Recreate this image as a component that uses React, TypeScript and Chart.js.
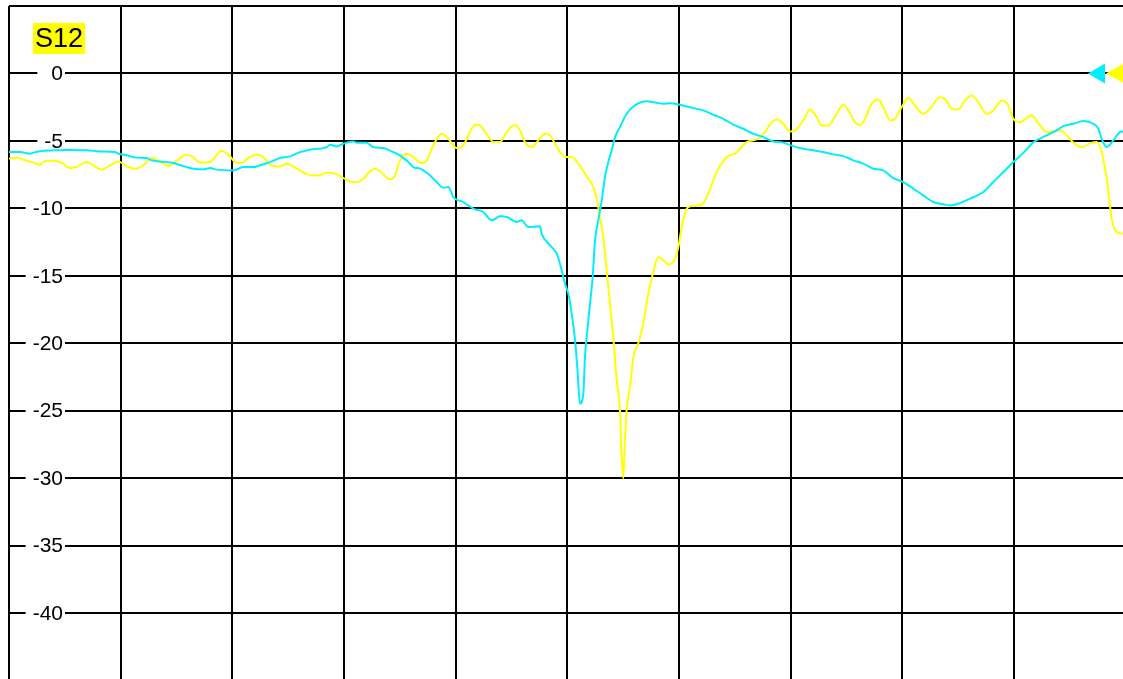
import { useEffect, useRef } from "react";
import { Chart, registerables } from "chart.js";

Chart.register(...registerables);

// Frequency axis in screen divisions (0 = left edge, 10 divisions across)
const yellowFreq = [
  0, 0.069, 0.143, 0.218, 0.278, 0.322, 0.397, 0.472, 0.546, 0.606, 0.696, 0.755, 0.83, 0.904, 0.979,
  1.054, 1.128, 1.203, 1.278, 1.352, 1.427, 1.487, 1.591, 1.65, 1.71, 1.8, 1.905, 1.979, 2.024, 2.084,
  2.143, 2.218, 2.277, 2.337, 2.427, 2.487, 2.576, 2.68, 2.77, 2.845, 2.904, 2.979, 3.054, 3.114, 3.173,
  3.233, 3.278, 3.322, 3.412, 3.457, 3.501, 3.561, 3.621, 3.696, 3.741, 3.8, 3.875, 3.934, 4.009, 4.068,
  4.143, 4.188, 4.233, 4.307, 4.337, 4.397, 4.457, 4.531, 4.576, 4.621, 4.681, 4.74, 4.8, 4.845, 4.889,
  4.934, 4.979, 5.039, 5.098, 5.158, 5.232, 5.263, 5.292, 5.322, 5.352, 5.382, 5.411, 5.442, 5.471, 5.487,
  5.501, 5.516, 5.531, 5.561, 5.591, 5.635, 5.68, 5.725, 5.77, 5.814, 5.859, 5.904, 5.949, 5.994, 6.024,
  6.069, 6.114, 6.203, 6.248, 6.337, 6.382, 6.441, 6.501, 6.576, 6.606, 6.71, 6.77, 6.83, 6.889, 6.934,
  6.994, 7.039, 7.113, 7.173, 7.233, 7.278, 7.337, 7.412, 7.471, 7.516, 7.576, 7.621, 7.666, 7.726, 7.785,
  7.83, 7.89, 7.934, 7.994, 8.053, 8.113, 8.188, 8.248, 8.337, 8.382, 8.442, 8.501, 8.561, 8.621, 8.68,
  8.755, 8.814, 8.89, 8.949, 8.994, 9.053, 9.158, 9.233, 9.293, 9.412, 9.471, 9.531, 9.606, 9.696, 9.74,
  9.785, 9.83, 9.875, 9.92, 9.976,
];
const yellowDb = [
  -6.32, -6.24, -6.44, -6.61, -6.76, -6.5, -6.47, -6.61, -7.01, -6.94, -6.57, -6.81, -7.13, -6.81, -6.52,
  -6.87, -7.06, -6.81, -6.27, -6.52, -6.87, -6.57, -6.02, -6.2, -6.61, -6.57, -5.73, -6.13, -6.57, -6.64,
  -6.27, -6.0, -6.2, -6.76, -6.89, -6.69, -7.06, -7.5, -7.56, -7.36, -7.39, -7.68, -8.0, -8.05, -7.8,
  -7.26, -7.06, -7.24, -7.85, -7.56, -6.44, -5.95, -6.2, -6.64, -6.44, -5.33, -4.47, -4.84, -5.53, -5.33,
  -4.1, -3.78, -3.98, -4.84, -5.09, -5.09, -4.35, -3.8, -4.22, -5.09, -5.46, -4.96, -4.47, -4.59, -5.21,
  -5.83, -6.2, -6.2, -6.69, -7.43, -8.42, -9.28, -10.64, -12.13, -14.59, -17.06, -19.53, -22.74, -24.96, -28.42,
  -30.02, -27.19, -24.96, -23.24, -21.01, -20.02, -18.54, -16.32, -14.72, -13.61, -13.85, -14.15, -13.98, -12.87, -11.39,
  -10.02, -9.83, -9.73, -9.16, -7.31, -6.69, -6.13, -5.95, -5.33, -5.09, -4.84, -4.35, -3.61, -3.41, -3.73,
  -4.3, -4.22, -3.48, -2.67, -3.24, -3.85, -3.85, -2.99, -2.32, -2.74, -3.61, -3.85, -3.36, -2.24, -1.93,
  -2.5, -3.48, -3.36, -2.5, -1.8, -2.37, -2.99, -2.61, -1.76, -1.87, -2.61, -2.67, -2.0, -1.63, -2.13,
  -2.99, -2.74, -2.0, -2.37, -3.36, -3.61, -3.11, -3.85, -4.35, -4.22, -4.59, -5.13, -5.46, -5.13, -5.09,
  -5.83, -7.8, -10.76, -11.76, -11.87,
];

const cyanFreq = [
  0, 0.099, 0.188, 0.218, 0.307, 0.397, 0.517, 0.696, 0.815, 0.949, 0.979, 1.054, 1.144, 1.233, 1.278,
  1.352, 1.471, 1.561, 1.65, 1.74, 1.8, 1.86, 2.009, 2.098, 2.188, 2.248, 2.337, 2.427, 2.516, 2.606,
  2.696, 2.845, 2.875, 2.935, 2.994, 3.083, 3.114, 3.203, 3.262, 3.352, 3.441, 3.501, 3.576, 3.621, 3.681,
  3.77, 3.83, 3.889, 3.934, 3.979, 4.068, 4.158, 4.247, 4.323, 4.397, 4.457, 4.546, 4.591, 4.65, 4.755,
  4.77, 4.845, 4.905, 4.934, 4.979, 5.009, 5.039, 5.069, 5.089, 5.113, 5.143, 5.158, 5.179, 5.203, 5.227,
  5.248, 5.277, 5.308, 5.337, 5.367, 5.397, 5.427, 5.471, 5.531, 5.606, 5.711, 5.8, 5.859, 5.919, 6.009,
  6.128, 6.217, 6.307, 6.397, 6.486, 6.576, 6.665, 6.755, 6.844, 6.934, 7.023, 7.113, 7.203, 7.292, 7.382,
  7.471, 7.561, 7.65, 7.74, 7.829, 7.919, 8.009, 8.098, 8.188, 8.277, 8.367, 8.427, 8.516, 8.606, 8.725,
  8.814, 8.904, 8.994, 9.083, 9.173, 9.293, 9.382, 9.441, 9.531, 9.621, 9.71, 9.755, 9.785, 9.83, 9.889,
  9.949, 9.976,
];
const cyanDb = [
  -5.83, -5.83, -5.95, -5.87, -5.73, -5.7, -5.68, -5.7, -5.78, -5.83, -5.95, -6.07, -6.24, -6.27, -6.44,
  -6.52, -6.64, -6.87, -7.06, -7.11, -7.01, -7.13, -7.19, -6.94, -6.94, -6.81, -6.57, -6.27, -6.15, -5.83,
  -5.65, -5.46, -5.28, -5.41, -5.21, -5.04, -5.13, -5.13, -5.46, -5.53, -5.83, -6.07, -6.57, -6.94, -7.06,
  -7.56, -8.05, -8.47, -8.42, -9.16, -9.53, -10.02, -10.27, -10.89, -10.59, -10.64, -11.01, -10.89, -11.39, -11.33,
  -11.87, -12.74, -13.36, -14.1, -15.58, -16.32, -17.8, -19.78, -21.76, -24.47, -23.73, -21.01, -19.04, -17.06, -15.09,
  -12.37, -10.89, -9.41, -7.68, -6.57, -5.7, -4.72, -3.98, -2.99, -2.37, -2.07, -2.17, -2.24, -2.2, -2.32,
  -2.57, -2.74, -3.06, -3.36, -3.8, -4.1, -4.47, -4.72, -5.04, -5.13, -5.39, -5.58, -5.7, -5.83, -6.0,
  -6.13, -6.44, -6.69, -7.06, -7.19, -7.76, -8.05, -8.54, -9.04, -9.53, -9.7, -9.78, -9.61, -9.28, -8.79,
  -8.05, -7.31, -6.57, -5.89, -5.11, -4.59, -4.22, -3.9, -3.73, -3.53, -3.73, -4.1, -4.84, -5.46, -4.96,
  -4.35, -4.3,
];

const xGridValues = [0, 1, 2, 3, 4, 5, 6, 7, 8, 9];
const yGridValues = [5, 0, -5, -10, -15, -20, -25, -30, -35, -40];
const yLabelValues = [0, -5, -10, -15, -20, -25, -30, -35, -40];
const yLabelTexts = ["0", "-5", "-10", "-15", "-20", "-25", "-30", "-35", "-40"];
const traceTitle = "S12";
const refLevel = 0;

const FONT = '"Liberation Sans", Arial, sans-serif';

export default function App() {
  const ref = useRef<HTMLCanvasElement>(null);

  useEffect(() => {
    const canvas = ref.current;
    if (!canvas) return;

    const overlay = {
      id: "overlay",
      beforeDatasetsDraw(chart: any) {
        const { ctx, chartArea } = chart;
        const ys = chart.scales.y;
        const rightX = chartArea.left + 54;
        ctx.save();
        ctx.font = `21px ${FONT}`;
        ctx.textAlign = "right";
        ctx.textBaseline = "middle";
        const minW = ctx.measureText("-0").width;
        yLabelValues.forEach((v, i) => {
          const py = ys.getPixelForValue(v);
          const t = yLabelTexts[i];
          const w = Math.max(ctx.measureText(t).width, minW);
          ctx.fillStyle = "#ffffff";
          ctx.fillRect(rightX - w - 7, py - 3, w + 9, 6);
          ctx.fillStyle = "#000000";
          ctx.fillText(t, rightX, py + 1);
        });
        ctx.restore();
      },
      afterDraw(chart: any) {
        const { ctx, chartArea } = chart;
        const ys = chart.scales.y;
        ctx.save();
        // trace title box
        ctx.fillStyle = "#ffff00";
        ctx.fillRect(chartArea.left + 24, chartArea.top + 17, 52, 31);
        ctx.fillStyle = "#000000";
        ctx.font = `27px ${FONT}`;
        ctx.textAlign = "left";
        ctx.textBaseline = "middle";
        ctx.fillText(traceTitle, chartArea.left + 26, chartArea.top + 34);
        // reference level markers
        const py = ys.getPixelForValue(refLevel);
        const r = chartArea.right;
        ctx.fillStyle = "#00eeff";
        ctx.beginPath();
        ctx.moveTo(r - 35, py);
        ctx.lineTo(r - 18, py - 10);
        ctx.lineTo(r - 18, py + 10);
        ctx.closePath();
        ctx.fill();
        ctx.fillStyle = "#ffff00";
        ctx.beginPath();
        ctx.moveTo(r - 17, py);
        ctx.lineTo(r + 3, py - 11);
        ctx.lineTo(r + 3, py + 11);
        ctx.closePath();
        ctx.fill();
        ctx.restore();
      },
    };

    const chart = new Chart(canvas, {
      type: "line",
      data: {
        datasets: [
          {
            label: "Trace 2",
            data: cyanFreq.map((x, i) => ({ x, y: cyanDb[i] })),
            borderColor: "#00eeff",
            borderWidth: 2,
            pointRadius: 0,
            cubicInterpolationMode: "monotone",
            fill: false,
          },
          {
            label: "Trace 1",
            data: yellowFreq.map((x, i) => ({ x, y: yellowDb[i] })),
            borderColor: "#ffff00",
            borderWidth: 2,
            pointRadius: 0,
            cubicInterpolationMode: "monotone",
            fill: false,
          },
        ],
      },
      plugins: [overlay],
      options: {
        responsive: false,
        animation: false,
        events: [],
        layout: { padding: { left: 9, top: 6, right: 0, bottom: 0 } },
        plugins: { legend: { display: false }, tooltip: { enabled: false } },
        scales: {
          x: {
            type: "linear",
            min: 0,
            max: 9.976,
            afterBuildTicks: (scale: any) => {
              scale.ticks = xGridValues.map((value) => ({ value }));
            },
            ticks: { display: false },
            border: { display: false },
            grid: { color: "#000000", lineWidth: 2, drawTicks: false },
          },
          y: {
            type: "linear",
            min: -44.89,
            max: 5,
            afterBuildTicks: (scale: any) => {
              scale.ticks = yGridValues.map((value) => ({ value }));
            },
            ticks: { display: false },
            border: { display: false },
            grid: { color: "#000000", lineWidth: 2, drawTicks: false },
          },
        },
      },
    } as any);

    return () => chart.destroy();
  }, []);

  return (
    <div style={{ position: "fixed", left: 0, top: 0, width: 1123, height: 679, background: "#ffffff" }}>
      <canvas ref={ref} width={1123} height={679} style={{ display: "block" }} />
    </div>
  );
}
